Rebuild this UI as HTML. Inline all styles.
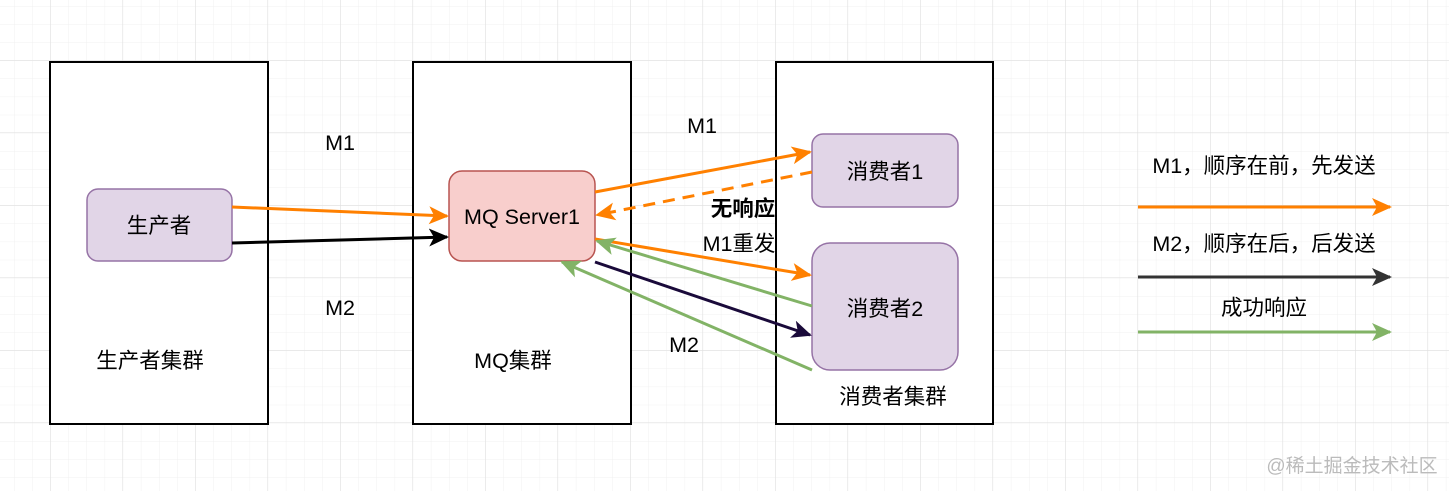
<!DOCTYPE html>
<html><head><meta charset="utf-8"><style>
html,body{margin:0;padding:0;background:#fff;}
svg{display:block;}
text{font-family:"Liberation Sans","Noto Sans CJK SC",sans-serif;font-size:21.5px;fill:#000;}
</style></head><body>
<svg width="1449" height="491" viewBox="0 0 1449 491" xmlns="http://www.w3.org/2000/svg">
<defs>
<pattern id="minor" x="14" y="6" width="18.125" height="18.125" patternUnits="userSpaceOnUse">
<path d="M0 0H18.125M0 0V18.125" stroke="#f0f0f0" stroke-width="1" fill="none"/>
</pattern>
<pattern id="major" x="50" y="60" width="72.5" height="72.5" patternUnits="userSpaceOnUse">
<path d="M0 0H72.5M0 0V72.5" stroke="#dedede" stroke-width="1" fill="none"/>
</pattern>
<marker id="ao" viewBox="0 0 20 20" refX="18" refY="10" markerWidth="20" markerHeight="20" orient="auto" markerUnits="userSpaceOnUse"><path d="M0 1L20 10L0 19L5 10Z" fill="#ff8000"/></marker>
<marker id="ak" viewBox="0 0 20 20" refX="18" refY="10" markerWidth="20" markerHeight="20" orient="auto" markerUnits="userSpaceOnUse"><path d="M0 1L20 10L0 19L5 10Z" fill="#000"/></marker>
<marker id="ad" viewBox="0 0 20 20" refX="18" refY="10" markerWidth="20" markerHeight="20" orient="auto" markerUnits="userSpaceOnUse"><path d="M0 1L20 10L0 19L5 10Z" fill="#333"/></marker>
<marker id="ap" viewBox="0 0 20 20" refX="18" refY="10" markerWidth="20" markerHeight="20" orient="auto" markerUnits="userSpaceOnUse"><path d="M0 1L20 10L0 19L5 10Z" fill="#1a0a3a"/></marker>
<marker id="ag" viewBox="0 0 20 20" refX="18" refY="10" markerWidth="20" markerHeight="20" orient="auto" markerUnits="userSpaceOnUse"><path d="M0 1L20 10L0 19L5 10Z" fill="#82b366"/></marker>
</defs>
<rect width="1449" height="491" fill="url(#minor)"/>
<rect width="1449" height="491" fill="url(#major)"/>

<rect x="50" y="62" width="218" height="362" fill="#fff" stroke="#000" stroke-width="2"/>
<rect x="413" y="62" width="218" height="362" fill="#fff" stroke="#000" stroke-width="2"/>
<rect x="776" y="62" width="217" height="362" fill="#fff" stroke="#000" stroke-width="2"/>

<rect x="87" y="189" width="145" height="72" rx="11" fill="#e1d5e7" stroke="#9673a6" stroke-width="1.5"/>
<text x="159" y="233" text-anchor="middle">生产者</text>
<rect x="449" y="171" width="146" height="90" rx="13" fill="#f8cecc" stroke="#b85450" stroke-width="1.5"/>
<text x="522" y="224" text-anchor="middle">MQ Server1</text>
<rect x="812" y="134" width="146" height="73" rx="11" fill="#e1d5e7" stroke="#9673a6" stroke-width="1.5"/>
<text x="885" y="179" text-anchor="middle">消费者1</text>
<rect x="812" y="243" width="146" height="127" rx="18" fill="#e1d5e7" stroke="#9673a6" stroke-width="1.5"/>
<text x="885" y="316" text-anchor="middle">消费者2</text>

<text x="340" y="150" text-anchor="middle">M1</text>
<text x="340" y="315" text-anchor="middle">M2</text>
<text x="150" y="368" text-anchor="middle">生产者集群</text>
<text x="513" y="368" text-anchor="middle">MQ集群</text>
<text x="893" y="404" text-anchor="middle">消费者集群</text>
<text x="702" y="133" text-anchor="middle">M1</text>
<text x="743" y="216" text-anchor="middle" style="font-weight:bold">无响应</text>
<text x="739" y="251" text-anchor="middle">M1重发</text>
<text x="684" y="352" text-anchor="middle">M2</text>

<g fill="none" stroke-width="3">
<line x1="232" y1="207" x2="447" y2="216" stroke="#ff8000" marker-end="url(#ao)"/>
<line x1="232" y1="243" x2="447" y2="237" stroke="#000" marker-end="url(#ak)"/>
<line x1="595" y1="192" x2="810" y2="152" stroke="#ff8000" marker-end="url(#ao)"/>
<line x1="812" y1="172" x2="597" y2="215" stroke="#ff8000" stroke-dasharray="12,8" marker-end="url(#ao)"/>
<line x1="595" y1="239" x2="810" y2="275" stroke="#ff8000" marker-end="url(#ao)"/>
<line x1="595" y1="262" x2="810" y2="335" stroke="#1a0a3a" marker-end="url(#ap)"/>
<line x1="812" y1="306" x2="597" y2="241" stroke="#82b366" marker-end="url(#ag)"/>
<line x1="812" y1="370" x2="562" y2="262" stroke="#82b366" marker-end="url(#ag)"/>
<line x1="1138" y1="207" x2="1390" y2="207" stroke="#ff8000" marker-end="url(#ao)"/>
<line x1="1138" y1="277" x2="1390" y2="277" stroke="#333" marker-end="url(#ad)"/>
<line x1="1138" y1="332" x2="1390" y2="332" stroke="#82b366" marker-end="url(#ag)"/>
</g>

<text x="1264" y="173" text-anchor="middle">M1，顺序在前，先发送</text>
<text x="1264" y="251" text-anchor="middle">M2，顺序在后，后发送</text>
<text x="1264" y="315" text-anchor="middle">成功响应</text>
<text x="1352" y="472" text-anchor="middle" style="fill:#bbb;font-size:19px">@稀土掘金技术社区</text>
</svg>
</body></html>
